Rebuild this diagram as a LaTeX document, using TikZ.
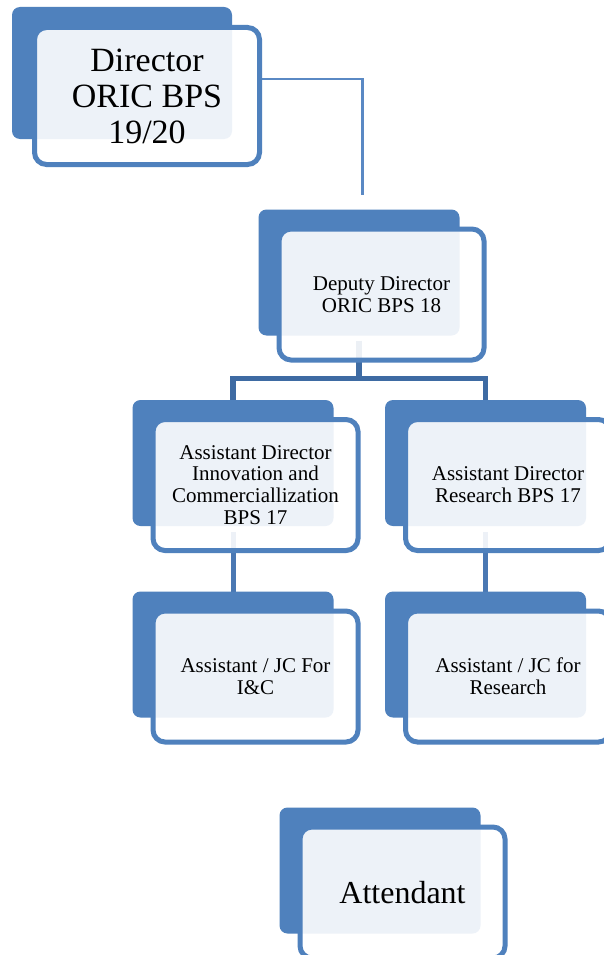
\documentclass[tikz,border=0pt]{standalone}
\usepackage{fontspec}
\setmainfont{Liberation Serif}
\usetikzlibrary{backgrounds}
\definecolor{cardblue}{HTML}{4F81BD}
\definecolor{trunkblue}{HTML}{3E6BA3}
\definecolor{branchblue}{HTML}{4A78B3}
\definecolor{toplineblue}{HTML}{5A89C4}

\begin{document}
\begin{tikzpicture}[
  x=1pt,
  y=-1pt,
  backcard/.style={fill=cardblue,rounded corners=8pt,anchor=north west,inner sep=0pt,outer sep=0pt,
    minimum width=201pt,minimum height=126pt},
  frontcard/.style={draw=cardblue,line width=5pt,fill=white,fill opacity=0.9,text opacity=1,
    rounded corners=12pt,anchor=north west,inner sep=0pt,outer sep=0pt,
    minimum width=205pt,minimum height=131pt,align=center,font=\fontsize{21}{21.8}\selectfont},
  trunk/.style={draw=trunkblue,line width=5.5pt},
  branch/.style={draw=branchblue,line width=5pt},
  topline/.style={draw=toplineblue,line width=2.6pt}
]
  \newcommand{\drawunit}[4]{%
    \node[backcard] (#1B) at (#2,#3) {};
    \node[frontcard] (#1) at ([xshift=20.5pt,yshift=-19.5pt]#1B.north west) {#4};
  }

  \useasboundingbox (0,0) rectangle (603,955);

  % Director card is a bit larger than the others.
  \node[backcard,minimum width=220pt,minimum height=132pt] (dirB) at (12,7) {};
  \node[frontcard,minimum width=225pt,minimum height=137pt,font=\fontsize{34}{36}\selectfont]
    (dir) at ([xshift=22.5pt,yshift=-20.5pt]dirB.north west) {Director\\ORIC BPS\\19/20};

  % Remaining posts.
  \drawunit{dep}{258.5}{209.5}{Deputy Director\\ORIC BPS 18}
  \drawunit{adic}{132.5}{400}{Assistant Director\\Innovation and\\Commerciallization\\BPS 17}
  \drawunit{adr}{385}{400}{Assistant Director\\Research BPS 17}
  \drawunit{asic}{132.5}{591.5}{Assistant / JC For\\I\&C}
  \drawunit{asr}{385}{591.5}{Assistant / JC for\\Research}
  \drawunit{att}{279.5}{807.5}{\fontsize{32}{34}\selectfont Attendant}

  % Connectors sit behind the cards.
  \begin{pgfonlayer}{background}
    \fill[white] (0,0) rectangle (603,955);
    \coordinate (dirEnd) at (362.5,195);
    \coordinate (bus) at (359.5,378.5);
    \draw[topline] ([yshift=17pt]dir.east) -| (dirEnd);
    \draw[trunk] ([yshift=-5pt]depB.south) -- (depB.center |- bus);
    \draw[trunk] (adicB.center) |- (bus) -| (adrB.center);
    \draw[branch] ([yshift=-6pt]adicB.south) -- (asicB.north);
    \draw[branch] ([yshift=-6pt]adrB.south) -- (asrB.north);
  \end{pgfonlayer}
\end{tikzpicture}
\end{document}
